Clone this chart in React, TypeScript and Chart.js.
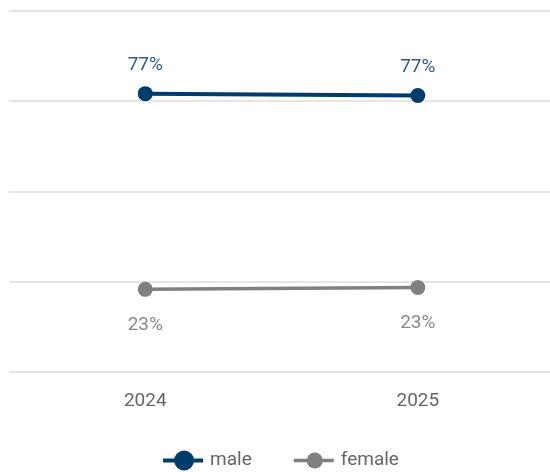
import React, { useEffect, useRef } from "react";
import { Chart, registerables } from "chart.js";

Chart.register(...registerables);

const categories = ["2024", "2025"];
const maleValues = [77.1, 76.6];
const femaleValues = [22.9, 23.4];
const seriesNames = ["male", "female"];
const yTicks = [0, 25, 50, 75, 100];

const MALE = "#003c6c";
const FEMALE = "#808080";
const FONT = "Roboto, 'DejaVu Sans', sans-serif";

const labelPlugin = {
  id: "valueLabels",
  afterDatasetsDraw(chart: any) {
    const ctx = chart.ctx;
    ctx.save();
    ctx.font = `19px ${FONT}`;
    ctx.textAlign = "center";
    ctx.textBaseline = "middle";
    chart.data.datasets.forEach((ds: any, i: number) => {
      const meta = chart.getDatasetMeta(i);
      meta.data.forEach((pt: any, j: number) => {
        const v = ds.data[j].y;
        ctx.fillStyle = i === 0 ? "#2b5a86" : "#8a8a8a";
        const off = i === 0 ? -28.5 : 35.5;
        ctx.fillText(Math.round(v) + "%", pt.x, pt.y + off);
      });
    });
    ctx.restore();
  },
};

const legendPlugin = {
  id: "lineLegend",
  afterDraw(chart: any) {
    const ctx = chart.ctx;
    ctx.save();
    ctx.font = `19px ${FONT}`;
    ctx.textBaseline = "middle";
    ctx.textAlign = "left";
    const iconW = 40;
    const textGap = 7;
    const itemGap = 42;
    const radii = [10, 8];
    const items = chart.data.datasets.map((ds: any, i: number) => ({
      text: ds.label,
      color: ds.borderColor,
      lw: ds.borderWidth,
      r: radii[i],
      w: iconW + textGap + ctx.measureText(ds.label).width,
    }));
    const total =
      items.reduce((s: number, it: any) => s + it.w, 0) + itemGap * (items.length - 1);
    let x = chart.width / 2 + 6 - total / 2;
    const y = 460.5;
    items.forEach((it: any) => {
      ctx.strokeStyle = it.color;
      ctx.lineWidth = it.lw;
      ctx.beginPath();
      ctx.moveTo(x, y);
      ctx.lineTo(x + iconW, y);
      ctx.stroke();
      ctx.fillStyle = it.color;
      ctx.beginPath();
      ctx.arc(x + iconW / 2 + 1, y, it.r, 0, Math.PI * 2);
      ctx.fill();
      ctx.fillStyle = "#666666";
      ctx.fillText(it.text, x + iconW + textGap, y);
      x += it.w + itemGap;
    });
    ctx.restore();
  },
};

export default function App() {
  const ref = useRef<HTMLCanvasElement | null>(null);
  useEffect(() => {
    document.body.style.margin = "0";
    const years = categories.map((c) => Number(c));
    const chart = new Chart(ref.current!, {
      type: "line",
      data: {
        datasets: [
          {
            label: seriesNames[0],
            data: maleValues.map((v, i) => ({ x: years[i], y: v })),
            borderColor: MALE,
            backgroundColor: MALE,
            borderWidth: 4,
            pointRadius: 7.5,
            pointStyle: "circle",
            pointBackgroundColor: MALE,
            pointBorderWidth: 0,
          },
          {
            label: seriesNames[1],
            data: femaleValues.map((v, i) => ({ x: years[i], y: v })),
            borderColor: FEMALE,
            backgroundColor: FEMALE,
            borderWidth: 3.5,
            pointRadius: 7.5,
            pointStyle: "circle",
            pointBackgroundColor: FEMALE,
            pointBorderWidth: 0,
          },
        ],
      },
      options: {
        responsive: false,
        animation: false,
        layout: { autoPadding: false, padding: { left: 9, right: 0, top: 11, bottom: 41.2 } },
        plugins: {
          tooltip: { enabled: false },
          legend: { display: false },
        },
        scales: {
          x: {
            type: "linear",
            min: 2023.5,
            max: 2025.485,
            afterBuildTicks: (axis: any) => {
              axis.ticks = years.map((v) => ({ value: v }));
            },
            grid: { display: false, drawTicks: false },
            border: { display: false },
            ticks: {
              color: "#666666",
              font: { family: FONT, size: 19 },
              padding: 18,
              callback: (v: any) => String(v),
            },
          },
          y: {
            min: 0,
            max: 100,
            afterBuildTicks: (axis: any) => {
              axis.ticks = yTicks.map((v) => ({ value: v }));
            },
            grid: { color: "#e5e5e5", lineWidth: 2, drawTicks: false },
            border: { display: false },
            ticks: { display: false },
          },
        },
      },
      plugins: [labelPlugin, legendPlugin],
    });
    return () => chart.destroy();
  }, []);
  return (
    <div style={{ width: 550, height: 472 }}>
      <canvas ref={ref} width={550} height={472} style={{ display: "block" }} />
    </div>
  );
}
